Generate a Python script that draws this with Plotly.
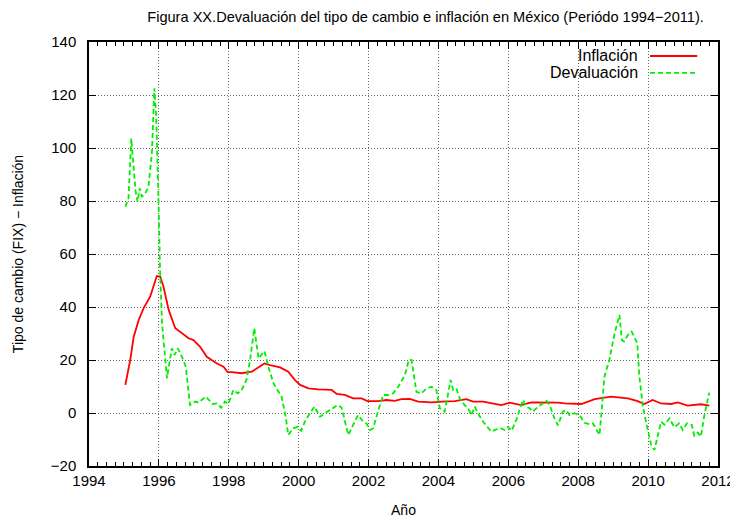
import plotly.graph_objects as go

# inflación anual (%), fecha en años decimales
infl_year = [1995.04, 1995.18, 1995.28, 1995.42, 1995.56, 1995.75, 1995.94, 1996.04, 1996.13,
             1996.28, 1996.47, 1996.66, 1996.85, 1996.99, 1997.18, 1997.37, 1997.66, 1997.85,
             1997.97, 1998.09, 1998.37, 1998.66, 1998.85, 1999.02, 1999.18, 1999.47, 1999.70,
             1999.89, 2000.04, 2000.28, 2000.56, 2000.94, 2001.09, 2001.32, 2001.56, 2001.80,
             2001.97, 2002.28, 2002.51, 2002.75, 2002.94, 2003.18, 2003.42, 2003.80, 2004.09,
             2004.47, 2004.80, 2004.99, 2005.28, 2005.61, 2005.80, 2006.04, 2006.37, 2006.66,
             2007.04, 2007.42, 2007.61, 2008.09, 2008.47, 2008.94, 2009.42, 2009.70, 2009.89,
             2010.13, 2010.37, 2010.66, 2010.85, 2011.13, 2011.51, 2011.75]
infl_val = [10.6, 20, 28.8, 35, 39.5, 43.9, 51.7, 51.4, 47.7,
            38.9, 32, 30, 28.2, 27.5, 25, 21.2, 18.7, 17.5,
            15.4, 15.4, 15, 15.6, 17.2, 18.7, 18.1, 17.2, 15.6,
            12.5, 10.6, 9.3, 8.9, 8.7, 7.2, 6.8, 5.5, 5.5,
            4.5, 4.5, 4.9, 4.6, 5.2, 5.3, 4.3, 4.0, 4.3,
            4.5, 5.2, 4.3, 4.3, 3.6, 3.0, 3.9, 3.0, 4.0,
            4.0, 3.9, 3.6, 3.4, 5.2, 6.2, 5.5, 4.5, 3.4,
            4.9, 3.6, 3.4, 4.0, 2.8, 3.3, 2.8]

# devaluación del tipo de cambio FIX (%)
dev_year = [1995.04, 1995.13, 1995.21, 1995.28, 1995.33, 1995.39, 1995.45, 1995.51, 1995.61,
            1995.70, 1995.80, 1995.87, 1995.92, 1995.99, 1996.03, 1996.09, 1996.23, 1996.37,
            1996.45, 1996.54, 1996.66, 1996.77, 1996.89, 1997.04, 1997.13, 1997.34, 1997.54,
            1997.66, 1997.78, 1997.89, 1997.99, 1998.13, 1998.26, 1998.37, 1998.51, 1998.61,
            1998.73, 1998.85, 1999.02, 1999.13, 1999.28, 1999.51, 1999.63, 1999.70, 1999.85,
            1999.97, 2000.07, 2000.20, 2000.32, 2000.45, 2000.61, 2000.75, 2000.89, 2001.11,
            2001.23, 2001.42, 2001.56, 2001.70, 2001.85, 2001.94, 2002.04, 2002.13, 2002.28,
            2002.42, 2002.56, 2002.70, 2002.85, 2003.04, 2003.15, 2003.23, 2003.37, 2003.51,
            2003.66, 2003.80, 2003.94, 2004.04, 2004.18, 2004.28, 2004.35, 2004.42, 2004.51,
            2004.61, 2004.75, 2004.85, 2004.94, 2005.04, 2005.13, 2005.28, 2005.42, 2005.51,
            2005.66, 2005.80, 2005.89, 2005.99, 2006.09, 2006.23, 2006.32, 2006.42, 2006.51,
            2006.61, 2006.70, 2006.85, 2006.99, 2007.09, 2007.18, 2007.32, 2007.42, 2007.56,
            2007.66, 2007.75, 2007.89, 2008.04, 2008.18, 2008.32, 2008.42, 2008.51, 2008.61,
            2008.68, 2008.75, 2008.89, 2009.04, 2009.18, 2009.25, 2009.31, 2009.42, 2009.53,
            2009.69, 2009.75, 2009.85, 2009.99, 2010.09, 2010.18, 2010.28, 2010.37, 2010.47,
            2010.61, 2010.75, 2010.89, 2010.99, 2011.11, 2011.25, 2011.32, 2011.42, 2011.51,
            2011.61, 2011.75]
dev_val = [77.9, 81, 103.6, 93, 84, 79.7, 84.8, 81.6, 82.9,
           85.4, 98, 122.5, 113, 80, 55, 33.8, 13.1, 24.4,
           21.9, 24.4, 21.2, 17.5, 3.0, 4.3, 3.9, 6.2, 3.4,
           3.6, 2.0, 4.3, 3.4, 8.7, 7.4, 8.7, 12.7, 20,
           32, 20.6, 23.4, 17.5, 11.2, 6.2, -1.4, -8.3, -5.8,
           -5.2, -6.7, -2.6, -0.1, 2.4, -1.4, -0.1, 1.1, 3.0,
           2.0, -8.3, -4.5, -0.8, -3.3, -3.9, -6.4, -5.8, 1.1,
           6.8, 6.8, 7.4, 9.9, 14.3, 20, 20, 8, 7.4,
           9.3, 9.9, 8.7, 1.8, 0.5, 7.4, 12.5, 8.7, 9.3,
           5.5, 3.0, 1.8, -0.8, 2.4, -0.1, -3.3, -5.8, -7.0,
           -6.2, -5.8, -6.4, -5.2, -6.7, -2.6, 1.1, 4.9, 2.4,
           1.8, 0.5, 2.4, 3.6, 4.6, 3.0, -2.0, -4.7, 0.5,
           1.1, -0.8, -0.1, -0.8, -3.7, -4.2, -3.9, -5.8, -8.3,
           2.4, 13.7, 20, 30, 37, 27.5, 27, 29.4, 30.7,
           26.3, 13.7, 2.4, -6.4, -12.1, -14, -7.7, -3.3, -4.4,
           -2.0, -5.4, -3.9, -6.4, -3.9, -4.5, -8.6, -7.4, -8.9,
           -0.8, 7.7]

series_names = ["Inflación", "Devaluación"]
red = "#ff0000"
green = "#00ee00"
font = "Liberation Sans, Arial, sans-serif"

fig = go.Figure()
fig.add_trace(go.Scatter(x=infl_year, y=infl_val, mode="lines", name=series_names[0],
                         line=dict(color=red, width=1.8), showlegend=False))
fig.add_trace(go.Scatter(x=dev_year, y=dev_val, mode="lines", name=series_names[1],
                         line=dict(color=green, width=1.8, dash="5px,3px"), showlegend=False))

# leyenda al estilo gnuplot: texto a la izquierda, muestra de línea a la derecha
legend_rows = [(series_names[0], red, "solid", 0.967), (series_names[1], green, "5px,3px", 0.927)]
for name, col, dash, yy in legend_rows:
    fig.add_annotation(x=0.876, y=yy, xref="paper", yref="paper", text=name,
                       showarrow=False, xanchor="right", yanchor="middle",
                       font=dict(size=16, color="black", family=font))
    fig.add_shape(type="line", xref="paper", yref="paper", x0=0.892, x1=0.967, y0=yy, y1=yy,
                  line=dict(color=col, width=1.8, dash=dash))

axis_common = dict(showline=True, linecolor="black", linewidth=1.5, mirror="allticks",
                   ticks="inside", ticklen=7, tickcolor="black", tickwidth=1,
                   showgrid=True, gridcolor="#666666", griddash="1px,2px", gridwidth=1,
                   zeroline=False, automargin=False,
                   tickfont=dict(size=15, color="black", family=font))

fig.update_xaxes(range=[1994, 2012], tick0=1994, dtick=2,
                 minor=dict(ticks="inside", ticklen=4, dtick=0.25, tickcolor="black", showgrid=False),
                 title=dict(text="Año", font=dict(size=14, color="black", family=font), standoff=22),
                 **axis_common)
fig.update_yaxes(range=[-20, 140], tick0=0, dtick=20, ticklabelstandoff=8,
                 title=dict(text="Tipo de cambio (FIX) − Inflación",
                            font=dict(size=14, color="black", family=font), standoff=24),
                 **axis_common)

# la página añade 8 px de margen al cuerpo, así que se compensa aquí
fig.update_layout(
    width=730, height=510,
    margin=dict(l=81, r=20, t=34, b=52),
    paper_bgcolor="white", plot_bgcolor="white",
    title=dict(text="Figura XX.Devaluación del tipo de cambio e inflación en México (Periódo 1994−2011).",
               x=0.572, xanchor="center", y=0.993, yanchor="top",
               font=dict(size=14.6, color="black", family=font)),
    font=dict(family=font, color="black"),
)

fig.write_html("out.html")
